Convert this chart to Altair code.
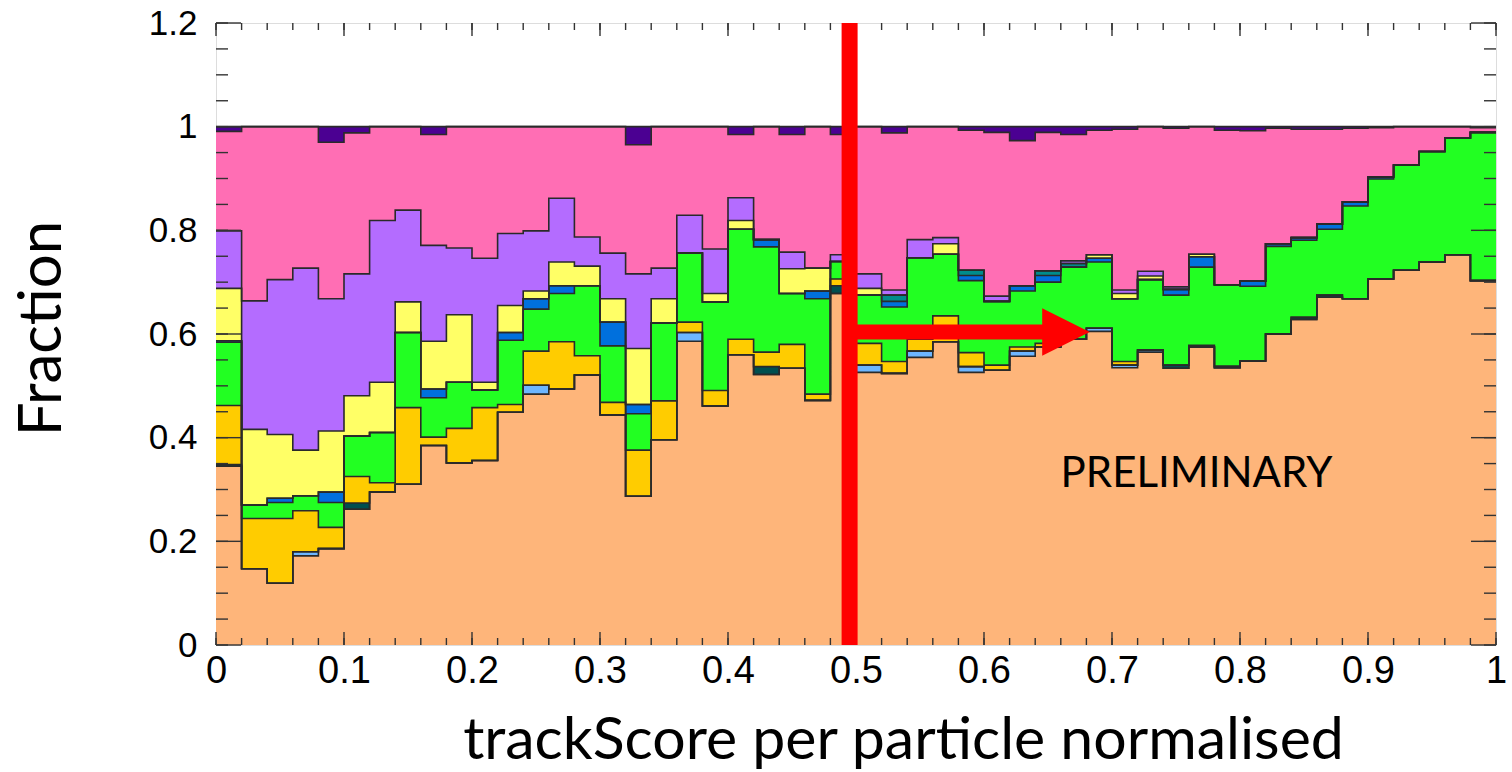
import altair as alt
import pandas as pd

# 50 bins of width 0.02 on the normalised trackScore axis
N_BINS = 50
BIN_WIDTH = 0.02
BIN_LO = [round(i * BIN_WIDTH, 2) for i in range(N_BINS)]

# Fraction of particles per bin for each stacked component (bottom to top)
peach = [0.345, 0.147, 0.119, 0.172, 0.186, 0.262, 0.295, 0.310, 0.385, 0.351,
         0.356, 0.449, 0.484, 0.494, 0.521, 0.444, 0.287, 0.396, 0.586, 0.461,
         0.560, 0.522, 0.534, 0.472, 0.678, 0.526, 0.524, 0.555, 0.585, 0.526,
         0.530, 0.557, 0.575, 0.590, 0.605, 0.535, 0.565, 0.534, 0.575, 0.535,
         0.548, 0.600, 0.628, 0.671, 0.668, 0.706, 0.723, 0.739, 0.753, 0.703]
light_blue = [0, 0, 0, 0.008, 0, 0, 0, 0, 0, 0,
              0, 0, 0.017, 0, 0, 0, 0, 0, 0.017, 0,
              0, 0, 0, 0, 0, 0.014, 0, 0.012, 0, 0.011,
              0, 0.010, 0, 0, 0.006, 0.005, 0.004, 0, 0, 0,
              0, 0, 0, 0, 0, 0, 0, 0, 0, 0]
dark_teal = [0.003, 0, 0, 0, 0, 0.012, 0, 0, 0, 0,
             0, 0, 0, 0, 0, 0, 0, 0, 0, 0,
             0, 0.015, 0, 0, 0.015, 0, 0, 0, 0, 0,
             0, 0, 0, 0, 0, 0, 0, 0.006, 0, 0,
             0, 0, 0.004, 0.004, 0, 0, 0, 0, 0, 0]
gold = [0.114, 0.097, 0.125, 0.079, 0.041, 0.051, 0.018, 0.148, 0.016, 0.067,
        0.102, 0.015, 0.066, 0.091, 0.037, 0.024, 0.089, 0.075, 0.020, 0.030,
        0.030, 0.028, 0.046, 0.012, 0.013, 0.042, 0.023, 0.023, 0.050, 0.027,
        0.010, 0.008, 0.007, 0, 0, 0.007, 0, 0, 0.003, 0.003,
        0, 0, 0, 0, 0, 0, 0, 0, 0, 0]
green = [0.122, 0.026, 0.031, 0.029, 0.048, 0.078, 0.097, 0.145, 0.076, 0.089,
         0.034, 0.124, 0.081, 0.093, 0.135, 0.109, 0.070, 0.150, 0.133, 0.171,
         0.212, 0.203, 0.098, 0.184, 0.034, 0.093, 0.105, 0.157, 0.119, 0.139,
         0.123, 0.108, 0.118, 0.139, 0.128, 0.121, 0.136, 0.135, 0.151, 0.157,
         0.144, 0.169, 0.149, 0.127, 0.179, 0.193, 0.203, 0.213, 0.225, 0.286]
blue = [0.003, 0, 0.008, 0, 0.020, 0, 0, 0, 0.017, 0,
        0, 0.015, 0.020, 0.015, 0, 0.046, 0.018, 0, 0, 0,
        0, 0.014, 0, 0.015, 0, 0, 0.011, 0, 0, 0.010,
        0, 0.010, 0.013, 0, 0.007, 0, 0, 0.011, 0.020, 0,
        0.010, 0.005, 0.005, 0.010, 0.008, 0.004, 0, 0, 0, 0]
teal = [0, 0, 0, 0, 0, 0, 0, 0, 0, 0,
        0, 0, 0, 0, 0, 0, 0, 0, 0, 0,
        0, 0, 0, 0, 0, 0, 0.012, 0, 0, 0.010,
        0, 0, 0.009, 0.007, 0, 0, 0, 0, 0, 0,
        0, 0, 0, 0, 0, 0, 0, 0, 0, 0]
yellow = [0.101, 0.146, 0.123, 0.088, 0.118, 0.078, 0.097, 0.059, 0.092, 0.130,
          0.015, 0.052, 0.015, 0.046, 0.038, 0.045, 0.108, 0.047, 0, 0.016,
          0.017, 0, 0.048, 0.044, 0, 0.013, 0, 0, 0.020, 0,
          0, 0, 0, 0, 0.007, 0.010, 0.007, 0, 0.005, 0,
          0, 0, 0, 0, 0, 0, 0, 0, 0, 0]
purple = [0.111, 0.248, 0.299, 0.351, 0.255, 0.235, 0.312, 0.177, 0.185, 0.129,
          0.239, 0.139, 0.116, 0.123, 0.056, 0.088, 0.144, 0.059, 0.073, 0.086,
          0.044, 0, 0.032, 0, 0.013, 0.028, 0.010, 0.035, 0.012, 0,
          0.010, 0, 0, 0.005, 0, 0.007, 0.009, 0.005, 0, 0,
          0, 0, 0, 0, 0, 0, 0, 0, 0, 0]
pink = [0.192, 0.336, 0.295, 0.273, 0.302, 0.272, 0.181, 0.161, 0.214, 0.234,
        0.254, 0.206, 0.201, 0.138, 0.213, 0.244, 0.249, 0.273, 0.171, 0.236,
        0.122, 0.218, 0.227, 0.273, 0.232, 0.284, 0.303, 0.218, 0.214, 0.270,
        0.316, 0.280, 0.267, 0.244, 0.240, 0.310, 0.279, 0.306, 0.246, 0.298,
        0.290, 0.223, 0.209, 0.183, 0.142, 0.095, 0.074, 0.048, 0.022, 0.009]
indigo = [0.009, 0, 0, 0, 0.030, 0.012, 0, 0, 0.015, 0,
          0, 0, 0, 0, 0, 0, 0.035, 0, 0, 0,
          0.015, 0, 0.015, 0, 0.015, 0, 0.012, 0, 0, 0.007,
          0.011, 0.027, 0.011, 0.015, 0.007, 0.005, 0, 0.003, 0, 0.007,
          0.008, 0.003, 0.005, 0.005, 0.003, 0.002, 0, 0, 0, 0.002]

LAYER_NAMES = ["peach", "light_blue", "dark_teal", "gold", "green", "blue",
               "teal", "yellow", "purple", "pink", "indigo"]
LAYER_VALUES = [peach, light_blue, dark_teal, gold, green, blue,
                teal, yellow, purple, pink, indigo]
LAYER_COLORS = ["#FEB57A", "#6DB6FF", "#004F4F", "#FFCC00", "#22FF22", "#0070DD",
                "#008C8C", "#FFFF66", "#B46CFF", "#FF6EB4", "#4B0092"]

# Axis labels and tick marks drawn inside the frame
X_LABELS = [round(i * 0.1, 1) for i in range(11)]
Y_LABELS = [round(i * 0.2, 1) for i in range(7)]
X_MINOR = [round(i * 0.02, 2) for i in range(51)]
Y_MINOR = [round(i * 0.05, 2) for i in range(25)]

# Annotations: selection cut and arrow
CUT = 0.495
ARROW_Y = 0.604
ARROW_BASE = 0.648
ARROW_HEAD_X = 0.664
NOTE_TEXT = "PRELIMINARY"
NOTE_X = 0.766
NOTE_Y = 0.33

W, H = 1280, 622

# Cumulative stack, one step-after row per bin edge plus the closing edge at 1
rows = []
base = [0.0] * N_BINS
for order, (name, vals) in enumerate(zip(LAYER_NAMES, LAYER_VALUES)):
    top = [b + v for b, v in zip(base, vals)]
    edges = BIN_LO + [1.0]
    for i, x in enumerate(edges):
        j = min(i, N_BINS - 1)
        rows.append({"x": x, "y0": base[j], "y1": top[j], "layer": name, "order": order})
    base = top
df = pd.DataFrame(rows)

x_scale = alt.Scale(domain=[0, 1], nice=False, zero=False)
y_scale = alt.Scale(domain=[0, 1.2], nice=False)

# The same axis definitions go on every layer so that they merge cleanly
X_AXIS = alt.Axis(
    values=X_LABELS, format="~g", labelFont="Liberation Sans", labelFontSize=38,
    labelPadding=7, labelFlush=False, labelOverlap=False, labelColor="black",
    ticks=False, domain=False, grid=False,
    title="trackScore per particle normalised", titleFont="Lato",
    titleFontSize=59, titleFontWeight="normal", titleColor="black",
    titleX=687, titleY=113, titleAlign="center", titleBaseline="alphabetic")
Y_AXIS = alt.Axis(
    values=Y_LABELS, format="~g", labelFont="Liberation Sans", labelFontSize=35,
    labelPadding=19, labelFlush=False, labelOverlap=False, labelColor="black",
    ticks=False, domain=False, grid=False,
    title="Fraction", titleFont="Lato", titleFontSize=60,
    titleFontWeight="normal", titleColor="black", titleAngle=270,
    titleX=-156, titleY=305, titleAlign="center", titleBaseline="alphabetic")


def xq(field):
    return alt.X(field, scale=x_scale, axis=X_AXIS)


def yq(field):
    return alt.Y(field, scale=y_scale, axis=Y_AXIS)


fills = alt.Chart(df).mark_area(interpolate="step-after").encode(
    x=xq("x:Q"),
    y=yq("y1:Q"),
    y2="y0:Q",
    color=alt.Color("layer:N", scale=alt.Scale(domain=LAYER_NAMES, range=LAYER_COLORS),
                    legend=None),
    order=alt.Order("order:Q"),
)

outlines = alt.Chart(df).mark_line(
    interpolate="step-after", color="#2a2a2a", strokeWidth=1.6
).encode(
    x=xq("x:Q"),
    y=yq("y1:Q"),
    detail="layer:N",
)


# Inward ticks on all four sides of the frame
def x_ticks(values, length):
    d = pd.DataFrame({"x": values})
    bottom = alt.Chart(d).mark_rule(color="#333", strokeWidth=1.4).encode(
        x=xq("x:Q"), y=alt.value(H), y2=alt.value(H - length))
    top = alt.Chart(d).mark_rule(color="#333", strokeWidth=1.4).encode(
        x=xq("x:Q"), y=alt.value(0), y2=alt.value(length))
    return [bottom, top]


def y_ticks(values, length):
    d = pd.DataFrame({"y1": values})
    left = alt.Chart(d).mark_rule(color="#333", strokeWidth=1.4).encode(
        y=yq("y1:Q"), x=alt.value(0), x2=alt.value(length))
    right = alt.Chart(d).mark_rule(color="#333", strokeWidth=1.4).encode(
        y=yq("y1:Q"), x=alt.value(W - length), x2=alt.value(W))
    return [left, right]


ticks = (x_ticks(X_MINOR, 7) + x_ticks(X_LABELS, 13)
         + y_ticks(Y_MINOR, 12) + y_ticks(Y_LABELS, 25))

cut_line = alt.Chart(pd.DataFrame({"x": [CUT]})).mark_rule(
    color="#FF0000", strokeWidth=16
).encode(x=xq("x:Q"))

shaft = alt.Chart(pd.DataFrame({"x": [CUT], "x2": [ARROW_BASE], "y1": [ARROW_Y]})).mark_rule(
    color="#FF0000", strokeWidth=15
).encode(x=xq("x:Q"), x2="x2:Q", y=yq("y1:Q"))

head = alt.Chart(pd.DataFrame({"x": [ARROW_HEAD_X], "y1": [ARROW_Y]})).mark_point(
    shape="M-1,-1L1,0L-1,1Z", filled=True, color="#FF0000", opacity=1, size=2256,
    strokeWidth=0
).encode(x=xq("x:Q"), y=yq("y1:Q"))

note = alt.Chart(pd.DataFrame({"x": [NOTE_X], "y1": [NOTE_Y], "t": [NOTE_TEXT]})).mark_text(
    font="Lato", fontSize=42, color="black", align="center", baseline="middle"
).encode(x=xq("x:Q"), y=yq("y1:Q"), text="t:N")

chart = alt.layer(fills, outlines, *ticks, note, cut_line, shaft, head).properties(
    width=W, height=H,
    padding={"left": 216, "top": 23, "right": 16, "bottom": 127},
    autosize=alt.AutoSizeParams(type="none"),
).configure_view(
    stroke="#555", strokeWidth=2
).configure(background="white")

chart.save("out.html", embed_options={"renderer": "svg", "actions": False})
